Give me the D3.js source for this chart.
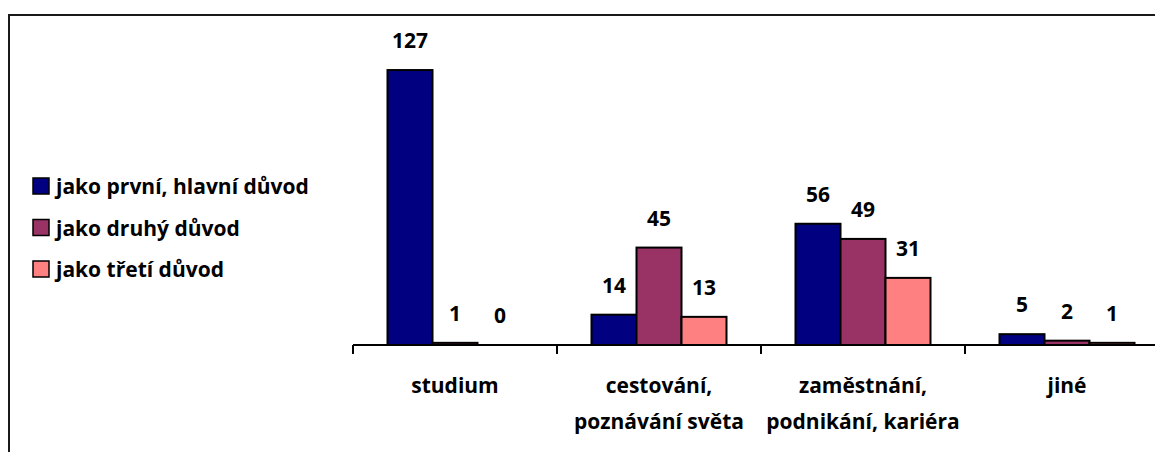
<!DOCTYPE html>
<html><head><meta charset="utf-8">
<script src="https://cdn.jsdelivr.net/npm/d3@7"></script>
<style>
html,body{margin:0;padding:0;background:#fff;}
svg text{font-family:"Open Sans",Lato,sans-serif;font-weight:bold;fill:#000;}
</style></head>
<body>
<script>
const categories = [["studium"], ["cestování,", "poznávání světa"], ["zaměstnání,", "podnikání, kariéra"], ["jiné"]];
const seriesNames = ["jako první, hlavní důvod", "jako druhý důvod", "jako třetí důvod"];
const first = [127, 14, 56, 5];
const second = [1, 45, 49, 2];
const third = [0, 13, 31, 1];
const colors = ["#000080", "#993366", "#FF8080"];

const W = 1155, H = 452;
const FS = 21;
const svg = d3.select("body").append("svg").attr("width", W).attr("height", H);

// outer frame
svg.append("rect").attr("x", 9).attr("y", 15).attr("width", 1200).attr("height", 500)
  .attr("fill", "none").attr("stroke", "#1a1a1a").attr("stroke-width", 2);

const series = [first, second, third];
const catIdx = d3.range(categories.length);
const x0 = d3.scaleBand().domain(catIdx).range([353, 353 + 204 * 4]).paddingInner(0).paddingOuter(0);
const x1 = d3.scaleBand().domain([0, 1, 2]).range([0, 135]);
const y = d3.scaleLinear().domain([0, 140]).range([345, 41.9]);
const off = (x0.bandwidth() - 135) / 2;

const data = [];
series.forEach((s, si) => s.forEach((v, ci) => data.push({ci, si, v})));

svg.append("g").selectAll("rect").data(data).enter().append("rect")
  .attr("x", d => x0(d.ci) + off + x1(d.si))
  .attr("y", d => y(d.v))
  .attr("width", x1.bandwidth())
  .attr("height", d => y(0) - y(d.v))
  .attr("fill", d => colors[d.si])
  .attr("stroke", "#000").attr("stroke-width", 2);

svg.append("g").selectAll("text").data(data).enter().append("text")
  .attr("x", d => x0(d.ci) + off + x1(d.si) + x1.bandwidth() / 2)
  .attr("y", d => y(d.v) - 22)
  .attr("text-anchor", "middle").attr("font-size", FS)
  .text(d => d.v);

// x axis
const axisG = svg.append("g").attr("transform", "translate(0,345)");
axisG.append("line").attr("x1", 353).attr("x2", W + 5).attr("y1", 0).attr("y2", 0)
  .attr("stroke", "#000").attr("stroke-width", 2);
axisG.selectAll("line.tick").data(d3.range(categories.length + 1)).enter().append("line")
  .attr("class", "tick")
  .attr("x1", i => 353 + x0.step() * i).attr("x2", i => 353 + x0.step() * i)
  .attr("y1", 0).attr("y2", 9).attr("stroke", "#000").attr("stroke-width", 2);

const lab = svg.append("g").selectAll("text").data(catIdx).enter().append("text")
  .attr("text-anchor", "middle").attr("font-size", FS);
lab.each(function(ci) {
  const t = d3.select(this);
  categories[ci].forEach((line, li) => {
    t.append("tspan").attr("x", x0(ci) + x0.bandwidth() / 2).attr("y", 393 + li * 36).text(line);
  });
});

// legend
const leg = svg.append("g").selectAll("g").data(seriesNames).enter().append("g")
  .attr("transform", (d, i) => `translate(33,${178 + i * 41.5})`);
leg.append("rect").attr("width", 16).attr("height", 16)
  .attr("fill", (d, i) => colors[i]).attr("stroke", "#000").attr("stroke-width", 1.5);
leg.append("text").attr("x", 23).attr("y", 16).attr("font-size", FS).text(d => d);
</script>
</body></html>
